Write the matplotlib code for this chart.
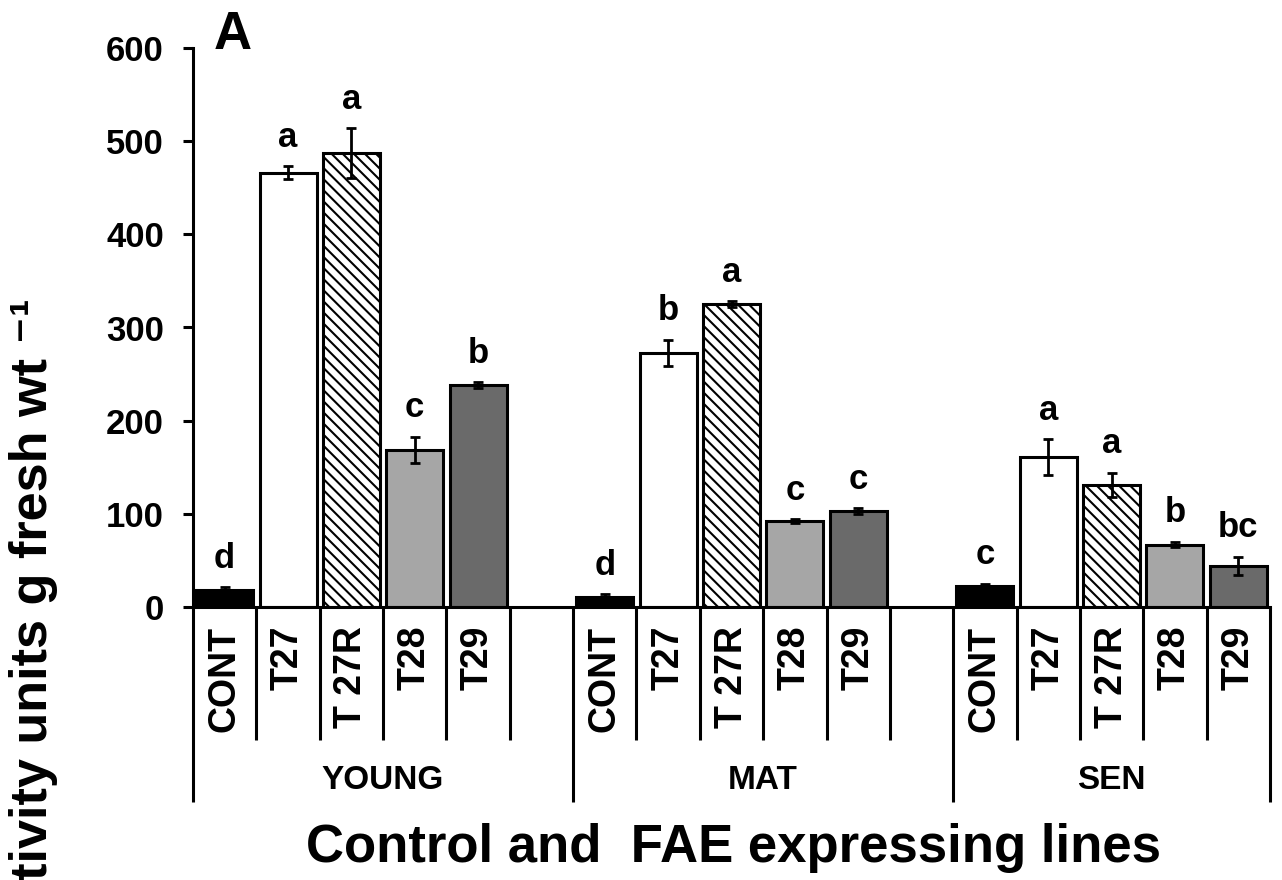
import matplotlib
matplotlib.use("Agg")
import matplotlib.pyplot as plt
import matplotlib.transforms as mtransforms

plt.rcParams['font.family'] = ['Liberation Sans', 'DejaVu Sans']
plt.rcParams['font.weight'] = 'bold'
plt.rcParams['hatch.linewidth'] = 1.5

# FAE activity per leaf stage and line
groups = ["YOUNG", "MAT", "SEN"]
lines = ["CONT", "T27", "T 27R", "T28", "T29"]

young_mean = [18, 466, 487, 169, 238]
young_err = [3, 7, 27, 14, 3]
young_sig = ["d", "a", "a", "c", "b"]

mat_mean = [11, 273, 325, 92, 103]
mat_err = [3, 14, 3, 2, 3]
mat_sig = ["d", "b", "a", "c", "c"]

sen_mean = [23, 161, 131, 67, 44]
sen_err = [2, 19, 13, 3, 10]
sen_sig = ["c", "a", "a", "b", "bc"]

fills = ["black", "white", "white", "#a6a6a6", "#6a6a6a"]
hatches = [None, None, "\\\\\\", None, None]

W, H = 1282, 880
fig = plt.figure(figsize=(W / 100, H / 100), dpi=100)
ax = fig.add_axes([193 / W, 1 - 607 / H, (1270 - 193) / W, (607 - 48) / H])

data = [(young_mean, young_err, young_sig),
        (mat_mean, mat_err, mat_sig),
        (sen_mean, sen_err, sen_sig)]

for g, (means, errs, sig) in enumerate(data):
    for i in range(len(lines)):
        x = g * 6 + i + 0.5
        ax.bar(x, means[i], width=0.9, color=fills[i], edgecolor="black",
               linewidth=2.2, hatch=hatches[i], zorder=2)
        ax.errorbar(x, means[i], yerr=errs[i], fmt="none", ecolor="black",
                    elinewidth=2, capsize=3.6, capthick=2, zorder=3)
        ax.annotate(sig[i], (x, means[i] + errs[i]), xytext=(0, 14),
                    textcoords="offset points", ha="center", va="baseline",
                    fontsize=25)

ax.set_xlim(0, 17)
ax.set_ylim(0, 600)
ax.set_yticks(range(0, 601, 100))
ax.set_xticks([])
for s in ["top", "right"]:
    ax.spines[s].set_visible(False)
for s in ["left", "bottom"]:
    ax.spines[s].set_linewidth(2.2)
ax.tick_params(axis="y", direction="out", length=7, width=2.2,
               labelsize=25, pad=14)

# category boxes below the axis
trans = mtransforms.blended_transform_factory(ax.transData, fig.transFigure)
y0 = 1 - 607 / H
y_short = 1 - 740 / H
y_long = 1 - 802 / H
for b in range(18):
    y_end = y_long if b in (0, 6, 12, 17) else y_short
    ax.plot([b, b], [y0, y_end], transform=trans, color="black", lw=2.2,
            clip_on=False, solid_capstyle="butt")

for g, name in enumerate(groups):
    for i, lab in enumerate(lines):
        ax.text(g * 6 + i + 0.5, 1 - 626 / H, lab, transform=trans,
                rotation=90, ha="center", va="top", fontsize=27)
    n = 5 if g == 2 else 6
    ax.text(g * 6 + n / 2, 1 - 780 / H, name, transform=trans,
            ha="center", va="center", fontsize=24)

fig.text(733 / W, 1 - 848 / H, "Control and  FAE expressing lines",
         ha="center", va="center", fontsize=38)
fig.text(214 / W, 1 - 10 / H, "A", ha="left", va="top", fontsize=38)
fig.text(34 / W, 1 - 298 / H, "FAE activity units g fresh wt \u207b\u00b9",
         rotation=90, ha="center", va="top", fontsize=37.6)

fig.savefig("out.png", dpi=100)
